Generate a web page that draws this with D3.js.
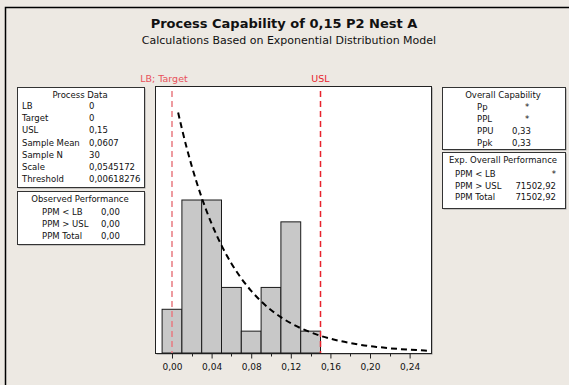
<!DOCTYPE html>
<html>
<head>
<meta charset="utf-8">
<script src="https://cdnjs.cloudflare.com/ajax/libs/d3/7.8.5/d3.min.js"></script>
<style>
  body { margin: 0; background: #ede9e3; }
  svg text { font-family: "DejaVu Sans", sans-serif; fill: #111; }
</style>
</head>
<body>
<div id="chart"></div>
<script>
var width = 569,
    height = 385;

// histogram: bin midpoints and counts
var binMids = [0.00, 0.02, 0.04, 0.06, 0.08, 0.10, 0.12, 0.14];
var binCounts = [2, 7, 7, 3, 1, 3, 6, 1];
var binWidth = 0.02;
var sampleN = 30;

// fitted exponential curve (x, density)
var curveX = [0.0062, 0.01, 0.02, 0.03, 0.04, 0.05, 0.06, 0.07, 0.08, 0.09, 0.10, 0.11, 0.12, 0.13,
              0.14, 0.15, 0.16, 0.17, 0.18, 0.19, 0.20, 0.21, 0.22, 0.23, 0.24, 0.25, 0.26];
var curveY = [18.34, 17.10, 14.24, 11.85, 9.86, 8.21, 6.83, 5.69, 4.74, 3.94, 3.28, 2.73, 2.27, 1.89,
              1.58, 1.31, 1.09, 0.91, 0.76, 0.63, 0.52, 0.44, 0.36, 0.30, 0.25, 0.21, 0.17];

var xTicks = [0.00, 0.04, 0.08, 0.12, 0.16, 0.20, 0.24];
var xMinor = [0.02, 0.06, 0.10, 0.14, 0.18, 0.22];
var LB = 0, USL = 0.15;

var processLabels = ["LB", "Target", "USL", "Sample Mean", "Sample N", "Scale", "Threshold"];
var processValues = ["0", "0", "0,15", "0,0607", "30", "0,0545172", "0,00618276"];
var observedLabels = ["PPM < LB", "PPM > USL", "PPM Total"];
var observedValues = ["0,00", "0,00", "0,00"];
var capLabels = ["Pp", "PPL", "PPU", "Ppk"];
var capValues = ["*", "*", "0,33", "0,33"];
var expLabels = ["PPM < LB", "PPM > USL", "PPM Total"];
var expValues = ["*", "71502,92", "71502,92"];

var svg = d3.select("#chart")
    .append("svg")
    .attr("width", width)
    .attr("height", height);

svg.append("rect")
    .attr("width", width)
    .attr("height", height)
    .attr("fill", "#ede9e3");

// outer frame (only left and top visible)
svg.append("path")
    .attr("d", "M5.5," + height + "V7.5H" + width)
    .attr("fill", "none")
    .attr("stroke", "#000")
    .attr("stroke-width", 1.5);

// titles
svg.append("text")
    .attr("x", 284)
    .attr("y", 28)
    .attr("text-anchor", "middle")
    .style("font-weight", "bold")
    .style("font-size", "13px")
    .text("Process Capability of 0,15 P2 Nest A");

svg.append("text")
    .attr("x", 289)
    .attr("y", 44)
    .attr("text-anchor", "middle")
    .style("font-size", "11px")
    .text("Calculations Based on Exponential Distribution Model");

// plot area
var plot = { left: 155, right: 431, top: 86, bottom: 353 };

var x = d3.scaleLinear()
    .domain([-0.01717, 0.2616])
    .range([plot.left, plot.right]);

var y = d3.scaleLinear()
    .domain([0, 20.36])
    .range([plot.bottom, plot.top]);

// shadow + white box
svg.append("rect")
    .attr("x", plot.left + 1.5)
    .attr("y", plot.top + 1.5)
    .attr("width", plot.right - plot.left)
    .attr("height", plot.bottom - plot.top)
    .attr("fill", "#8c8c8c");

svg.append("rect")
    .attr("x", plot.left + 0.5)
    .attr("y", plot.top + 0.5)
    .attr("width", plot.right - plot.left)
    .attr("height", plot.bottom - plot.top)
    .attr("fill", "#fff")
    .attr("stroke", "#222")
    .attr("stroke-width", 1);

// bars
svg.append("g")
    .selectAll("rect")
    .data(binMids)
    .enter()
    .append("rect")
    .attr("x", function (d) { return x(d - binWidth / 2); })
    .attr("width", function (d) { return x(d + binWidth / 2) - x(d - binWidth / 2); })
    .attr("y", function (d, i) { return y(binCounts[i] / (sampleN * binWidth)); })
    .attr("height", function (d, i) { return y(0) - y(binCounts[i] / (sampleN * binWidth)); })
    .attr("fill", "#c8c8c8")
    .attr("stroke", "#1a1a1a")
    .attr("stroke-width", 1);

// spec lines
svg.append("line")
    .attr("x1", x(LB)).attr("x2", x(LB))
    .attr("y1", plot.top + 5).attr("y2", plot.bottom)
    .attr("stroke", "#e87a80")
    .attr("stroke-width", 1.5)
    .attr("stroke-dasharray", "6,4");

svg.append("line")
    .attr("x1", x(USL)).attr("x2", x(USL))
    .attr("y1", plot.top + 5).attr("y2", plot.bottom)
    .attr("stroke", "#e8232d")
    .attr("stroke-width", 1.5)
    .attr("stroke-dasharray", "6,4");

svg.append("text")
    .attr("x", x(LB) - 8)
    .attr("y", 82)
    .attr("text-anchor", "middle")
    .style("font-size", "9.5px")
    .style("fill", "#e8505a")
    .text("LB; Target");

svg.append("text")
    .attr("x", x(USL))
    .attr("y", 82)
    .attr("text-anchor", "middle")
    .style("font-size", "9.5px")
    .style("fill", "#e8232d")
    .text("USL");

// fitted curve
var line = d3.line()
    .x(function (d, i) { return x(curveX[i]); })
    .y(function (d) { return y(d); })
    .curve(d3.curveMonotoneX);

svg.append("path")
    .datum(curveY)
    .attr("d", line)
    .attr("fill", "none")
    .attr("stroke", "#000")
    .attr("stroke-width", 2)
    .attr("stroke-dasharray", "6,4");

// x axis
var xAxis = svg.append("g")
    .attr("transform", "translate(0," + (plot.bottom + 0.5) + ")")
    .call(d3.axisBottom(x)
        .tickValues(xTicks)
        .tickSize(5)
        .tickFormat(function (d) { return d3.format(".2f")(d).replace(".", ","); }));

xAxis.select(".domain").remove();
xAxis.selectAll("line").attr("stroke", "#222");
xAxis.selectAll("text")
    .style("font-size", "9px")
    .style("font-family", "DejaVu Sans, sans-serif")
    .attr("fill", "#1c1c3a")
    .attr("dy", "0.9em");

svg.append("g")
    .attr("transform", "translate(0," + (plot.bottom + 0.5) + ")")
    .selectAll("line")
    .data(xMinor)
    .enter()
    .append("line")
    .attr("x1", function (d) { return Math.round(x(d)) + 0.5; })
    .attr("x2", function (d) { return Math.round(x(d)) + 0.5; })
    .attr("y1", 0)
    .attr("y2", 3)
    .attr("stroke", "#222");

// text tables
function box(x0, y0, w, h) {
    svg.append("rect")
        .attr("x", x0 + 1.5).attr("y", y0 + 1.5)
        .attr("width", w).attr("height", h)
        .attr("fill", "#9a9a9a");
    svg.append("rect")
        .attr("x", x0 + 0.5).attr("y", y0 + 0.5)
        .attr("width", w).attr("height", h)
        .attr("fill", "#fff")
        .attr("stroke", "#333");
}

function table(x0, y0, w, h, title, titleX, labels, values, labelX, valueX, firstRow, step, valueAnchor) {
    box(x0, y0, w, h);
    svg.append("text")
        .attr("x", titleX).attr("y", y0 + 11)
        .attr("text-anchor", "middle")
        .style("font-size", "8.5px")
        .text(title);
    labels.forEach(function (lab, i) {
        svg.append("text")
            .attr("x", labelX).attr("y", firstRow + i * step)
            .style("font-size", "8.5px")
            .text(lab);
        svg.append("text")
            .attr("x", valueX[i] !== undefined ? valueX[i] : valueX)
            .attr("y", firstRow + i * step)
            .attr("text-anchor", valueAnchor[i] || "start")
            .style("font-size", "8.5px")
            .text(values[i]);
    });
}

table(17, 87, 127, 100, "Process Data", 80, processLabels, processValues, 22, 89, 109, 12.2, []);
table(17, 191, 127, 53, "Observed Performance", 80, observedLabels, observedValues, 42, 101, 215, 12, []);
table(442, 87, 123, 62, "Overall Capability", 503, capLabels, capValues,
      477, [527, 527, 512, 512], 110, 12, ["middle", "middle", "start", "start"]);
table(442, 152, 123, 56, "Exp. Overall Performance", 503, expLabels, expValues,
      455, 556, 177, 11.7, ["end", "end", "end"]);
</script>
</body>
</html>
